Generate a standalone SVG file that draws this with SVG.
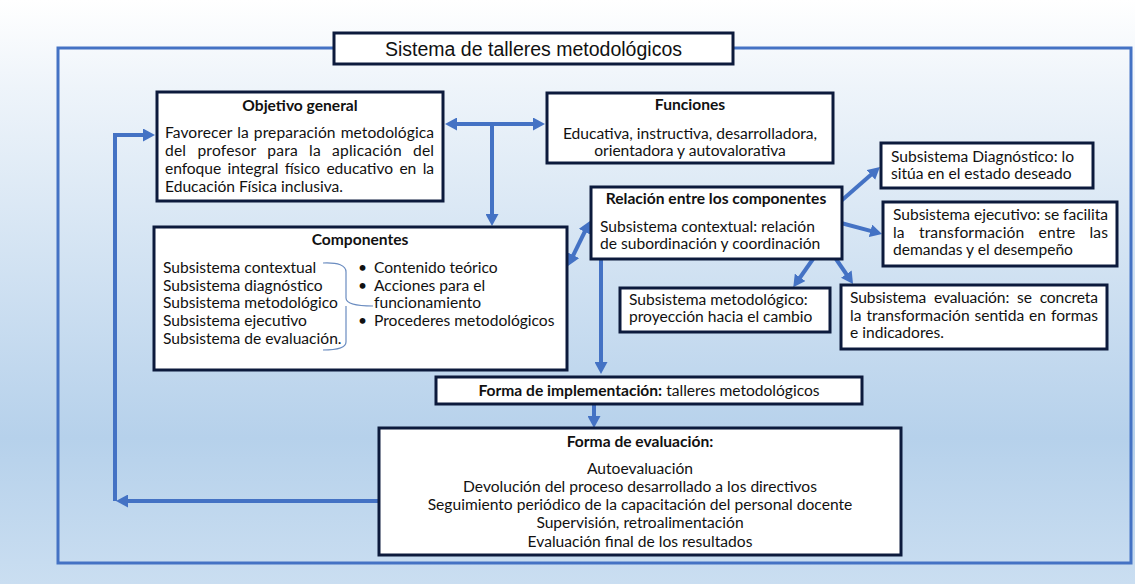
<svg xmlns="http://www.w3.org/2000/svg" width="1135" height="584" viewBox="0 0 1135 584">
<defs>
<linearGradient id="bg" x1="0" y1="0" x2="0" y2="1">
<stop offset="0" stop-color="#ffffff"/>
<stop offset="0.15" stop-color="#eef4fa"/>
<stop offset="0.75" stop-color="#b6d1eb"/>
<stop offset="1" stop-color="#cadef1"/>
</linearGradient>
<marker id="ah" viewBox="0 0 12 13" refX="2" refY="6.5" markerWidth="3" markerHeight="3.25" orient="auto-start-reverse">
<path d="M0,0 L12,6.5 L0,13 z" fill="#4472c4"/>
</marker>
<style>
.box{fill:#ffffff;stroke:#0c1a3c;stroke-width:3}
.t{font-family:Lato,"Noto Sans",sans-serif;font-size:15.6px;fill:#111111}
.b{font-family:Lato,"Noto Sans",sans-serif;font-size:15.6px;font-weight:bold;fill:#111111}
.c{text-anchor:middle}
.con{fill:none;stroke:#4472c4;stroke-width:4}
.frame{fill:none;stroke:#4472c4;stroke-width:3}
</style>
</defs>
<rect x="0" y="0" width="1135" height="584" fill="url(#bg)"/>
<rect class="frame" x="58" y="48" width="1073" height="515"/>

<g id="connectors">
<line class="con" x1="455" y1="124" x2="535" y2="124" marker-start="url(#ah)" marker-end="url(#ah)"/>
<line class="con" x1="492" y1="124" x2="492" y2="216" marker-end="url(#ah)"/>
<line class="con" x1="572.4" y1="257" x2="585.6" y2="230" marker-start="url(#ah)" marker-end="url(#ah)"/>
<line class="con" x1="601" y1="259" x2="601" y2="364" marker-end="url(#ah)"/>
<line class="con" x1="841" y1="201" x2="872.4" y2="173.6" marker-end="url(#ah)"/>
<line class="con" x1="841" y1="223" x2="872.4" y2="231.4" marker-end="url(#ah)"/>
<line class="con" x1="813" y1="259" x2="799" y2="279" marker-end="url(#ah)"/>
<line class="con" x1="836" y1="259" x2="847.4" y2="275.7" marker-end="url(#ah)"/>
<line class="con" x1="594" y1="404" x2="594" y2="418" marker-end="url(#ah)"/>
<line class="con" x1="378" y1="501" x2="126" y2="501" marker-end="url(#ah)"/>
<polyline class="con" points="115,501 115,135 145,135" marker-end="url(#ah)"/>
</g>

<g id="title">
<rect class="box" x="334" y="33" width="399" height="31"/>
<text x="533.5" y="56" class="c" style="font-family:'Liberation Sans',Arial,sans-serif;font-size:19.5px;fill:#111111">Sistema de talleres metodológicos</text>
</g>

<g id="objetivo">
<rect class="box" x="157" y="92" width="286" height="109"/>
<text x="300" y="111" class="b c">Objetivo general</text>
<text x="165" y="138" class="t" textLength="269" word-spacing="1">Favorecer la preparación metodológica</text>
<text x="165" y="156" class="t" textLength="269" word-spacing="7">del profesor para la aplicación del</text>
<text x="165" y="174" class="t" textLength="269" word-spacing="2.5">enfoque integral físico educativo en la</text>
<text x="165" y="192" class="t">Educación Física inclusiva.</text>
</g>

<g id="funciones">
<rect class="box" x="547" y="93" width="286" height="70"/>
<text x="690" y="110" class="b c">Funciones</text>
<text x="690" y="139" class="t c">Educativa, instructiva, desarrolladora,</text>
<text x="690" y="156" class="t c">orientadora y autovalorativa</text>
</g>

<g id="componentes">
<rect class="box" x="154" y="227" width="413" height="143"/>
<text x="360" y="245" class="b c">Componentes</text>
<text x="163" y="273" class="t">Subsistema contextual</text>
<text x="163" y="291" class="t">Subsistema diagnóstico</text>
<text x="163" y="308" class="t">Subsistema metodológico</text>
<text x="163" y="326" class="t">Subsistema ejecutivo</text>
<text x="163" y="344" class="t">Subsistema de evaluación.</text>
<path d="M323,263 Q346,262 346,272 L346,298 Q346,306 373,306 M346,306 Q346,312 346,316 L346,342 Q346,350 323,350" fill="none" stroke="#6a8cc0" stroke-width="1.2"/>
<text x="358" y="273" class="t">•</text>
<text x="358" y="291" class="t">•</text>
<text x="358" y="326" class="t">•</text>
<text x="374" y="273" class="t">Contenido teórico</text>
<text x="374" y="291" class="t">Acciones para el</text>
<text x="374" y="308" class="t">funcionamiento</text>
<text x="374" y="326" class="t">Procederes metodológicos</text>
</g>

<g id="relacion">
<rect class="box" x="591" y="187" width="251" height="72"/>
<text x="716" y="204" class="b c">Relación entre los componentes</text>
<text x="600" y="232" class="t">Subsistema contextual: relación</text>
<text x="600" y="249" class="t">de subordinación y coordinación</text>
</g>

<g id="diagnostico">
<rect class="box" x="881" y="143" width="212" height="45"/>
<text x="891" y="162" class="t">Subsistema Diagnóstico: lo</text>
<text x="891" y="179" class="t">sitúa en el estado deseado</text>
</g>

<g id="ejecutivo">
<rect class="box" x="883" y="202" width="234" height="64"/>
<text x="893" y="220" class="t" textLength="215">Subsistema ejecutivo: se facilita</text>
<text x="893" y="238" class="t" textLength="215" word-spacing="10">la transformación entre las</text>
<text x="893" y="255" class="t">demandas y el desempeño</text>
</g>

<g id="metodologico">
<rect class="box" x="620" y="288" width="210" height="44"/>
<text x="629" y="305" class="t">Subsistema metodológico:</text>
<text x="629" y="322" class="t">proyección hacia el cambio</text>
</g>

<g id="evaluacion-sub">
<rect class="box" x="841" y="285" width="266" height="64"/>
<text x="850" y="303" class="t" textLength="248" word-spacing="4">Subsistema evaluación: se concreta</text>
<text x="850" y="321" class="t" textLength="248" word-spacing="1">la transformación sentida en formas</text>
<text x="850" y="338" class="t">e indicadores.</text>
</g>

<g id="implementacion">
<rect class="box" x="436" y="377" width="426" height="27"/>
<text x="649" y="396" class="t c"><tspan font-weight="bold">Forma de implementación:</tspan> talleres metodológicos</text>
</g>

<g id="forma-evaluacion">
<rect class="box" x="379" y="428" width="522" height="127"/>
<text x="640" y="447" class="b c">Forma de evaluación:</text>
<text x="640" y="474" class="t c">Autoevaluación</text>
<text x="640" y="492" class="t c">Devolución del proceso desarrollado a los directivos</text>
<text x="640" y="510" class="t c">Seguimiento periódico de la capacitación del personal docente</text>
<text x="640" y="528" class="t c">Supervisión, retroalimentación</text>
<text x="640" y="547" class="t c">Evaluación final de los resultados</text>
</g>
</svg>
